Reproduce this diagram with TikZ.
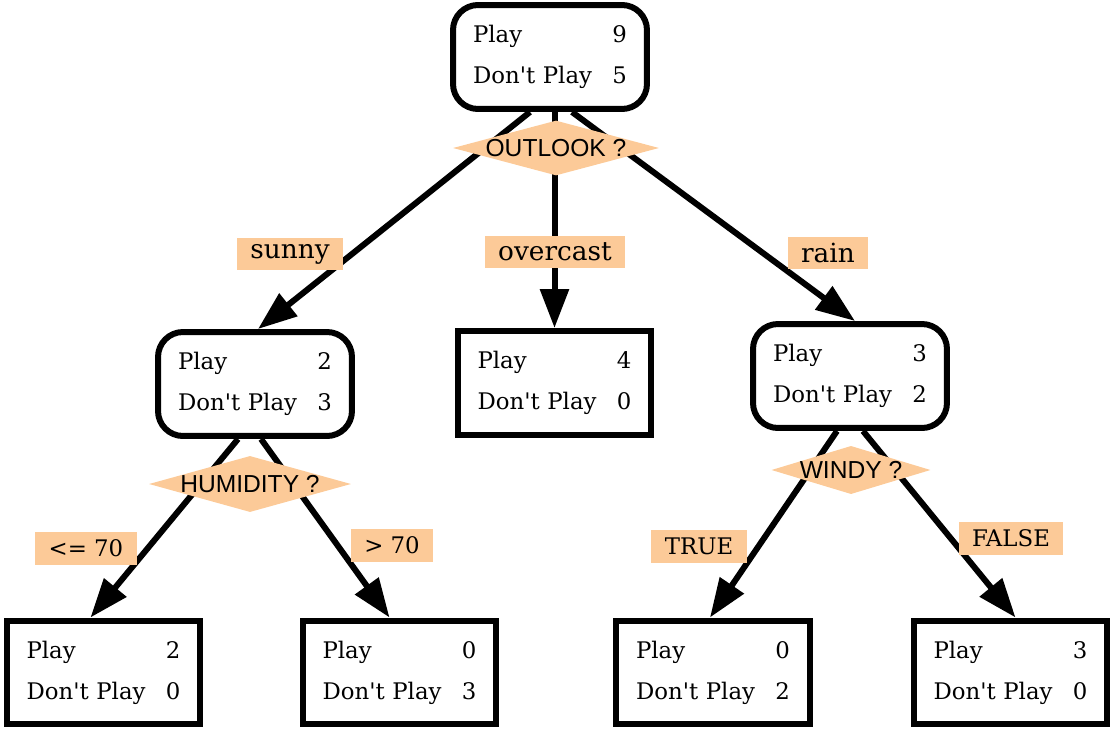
\documentclass[tikz,border=0pt]{standalone}
\usepackage{fontspec}
\setmainfont{DejaVu Serif}
\newfontfamily\diafont{Liberation Sans}
\usetikzlibrary{arrows.meta,shapes.geometric,calc}
\definecolor{peach}{RGB}{252,202,152}

\newcommand{\tally}[2]{Play\hfill #1\\[8pt]Don\textquotesingle t Play\hfill #2}

\tikzset{
    leaf/.style={draw, line width=0.12cm, minimum width=3.88cm, minimum height=2.08cm, text width=3.08cm, align=left, inner sep=0pt, font=\fontsize{13}{15.5}\selectfont},
    split/.style={leaf, rounded corners=0.5cm},
    test/.style={diamond, fill=peach, inner sep=0pt, font=\diafont\fontsize{14}{16}\selectfont},
    branch/.style={fill=peach, inner xsep=0.27cm, inner ysep=0pt, minimum height=0.66cm, font=\fontsize{15}{17}\selectfont},
    smallbranch/.style={branch, minimum height=0.66cm, font=\fontsize{13}{15}\selectfont},
    arr/.style={line width=0.12cm, -{Triangle[length=0.78cm,width=0.56cm]}},
}

\begin{document}
\begin{tikzpicture}[x=0.02cm, y=-0.02cm]
    \useasboundingbox (0,0) rectangle (1110,730);

    % boxes
    \node[split] (all) at (550,57) {\tally{9}{5}};
    \node[split] (sunny) at (255,384) {\tally{2}{3}};
    \node[leaf] (overcast) at (554.5,383) {\tally{4}{0}};
    \node[split] (rainy) at (850,376) {\tally{3}{2}};
    \node[leaf] (sunlow) at (103.5,672.5) {\tally{2}{0}};
    \node[leaf] (sunhigh) at (399.5,672.5) {\tally{0}{3}};
    \node[leaf] (windtrue) at (713,672.5) {\tally{0}{2}};
    \node[leaf] (windfalse) at (1010.5,672.5) {\tally{3}{0}};

    % edges
    \draw[arr] ($(all.south)+(-20,0)$) -- ($(sunny.north)+(3,0)$);
    \draw[arr] (all.south -| overcast.north) -- (overcast.north);
    \draw[arr] ($(all.south)+(22,0)$) -- ($(rainy.north)+(5,0)$);
    \draw[arr] ($(sunny.south)+(-17,0)$) -- ($(sunlow.north)+(-13,0)$);
    \draw[arr] ($(sunny.south)+(6,0)$) -- ($(sunhigh.north)+(-10,0)$);
    \draw[arr] ($(rainy.south)+(-13,0)$) -- ($(windtrue.north)+(-3,0)$);
    \draw[arr] ($(rainy.south)+(13,0)$) -- ($(windfalse.north)+(5,0)$);

    % tests
    \node[test, aspect=3.75] (outlook) at (556,148) {OUTLOOK ?};
    \node[test, aspect=3.6] (humidity) at (250,484) {HUMIDITY ?};
    \node[test, aspect=3.3] (windy) at (851,470) {WINDY ?};

    % branch labels
    \node[branch] (lsunny) at (290,254) {sunny};
    \node[branch] (lovercast) at (555,252) {overcast};
    \node[branch] (lrain) at (828,253) {rain};
    \node[smallbranch] (llow) at (86,548) {<= 70};
    \node[smallbranch] (lhigh) at (392,545) {> 70};
    \node[smallbranch] (ltrue) at (699,546) {TRUE};
    \node[smallbranch] (lfalse) at (1011,538) {FALSE};
\end{tikzpicture}
\end{document}
